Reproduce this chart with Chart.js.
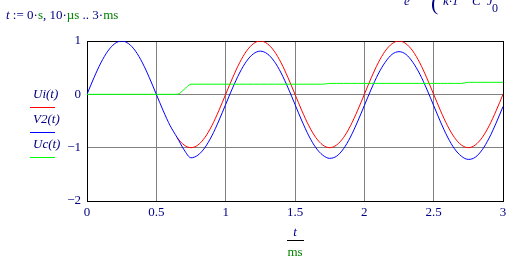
<!DOCTYPE html>
<html>
<head>
<meta charset="utf-8">
<script src="https://cdn.jsdelivr.net/npm/chart.js@4"></script>
<style>
  body { margin: 0; background: #fff; }
</style>
</head>
<body>
<canvas id="plot" width="527" height="263"></canvas>
<script>
// time in ms
const times = [0, 0.05, 0.1, 0.15, 0.2, 0.25, 0.3, 0.35, 0.4, 0.45,
  0.5, 0.55, 0.6, 0.65, 0.7, 0.75, 0.8, 0.85, 0.9, 0.95,
  1, 1.05, 1.1, 1.15, 1.2, 1.25, 1.3, 1.35, 1.4, 1.45,
  1.5, 1.55, 1.6, 1.65, 1.7, 1.75, 1.8, 1.85, 1.9, 1.95,
  2, 2.05, 2.1, 2.15, 2.2, 2.25, 2.3, 2.35, 2.4, 2.45,
  2.5, 2.55, 2.6, 2.65, 2.7, 2.75, 2.8, 2.85, 2.9, 2.95, 3];

// Ui(t) - red
const ui = [0, 0.31, 0.59, 0.81, 0.95, 1, 0.95, 0.81, 0.59, 0.31,
  0, -0.31, -0.59, -0.81, -0.95, -1, -0.95, -0.81, -0.59, -0.31,
  0, 0.31, 0.59, 0.81, 0.95, 1, 0.95, 0.81, 0.59, 0.31,
  0, -0.31, -0.59, -0.81, -0.95, -1, -0.95, -0.81, -0.59, -0.31,
  0, 0.31, 0.59, 0.81, 0.95, 1, 0.95, 0.81, 0.59, 0.31,
  0, -0.31, -0.59, -0.81, -0.95, -1, -0.95, -0.81, -0.59, -0.31, 0];

// V2(t) - blue
const v2 = [0, 0.31, 0.59, 0.81, 0.95, 1, 0.95, 0.81, 0.59, 0.31,
  0, -0.31, -0.59, -0.81, -1.04, -1.19, -1.14, -1.0, -0.78, -0.5,
  -0.19, 0.12, 0.4, 0.62, 0.76, 0.81, 0.76, 0.62, 0.4, 0.12,
  -0.19, -0.5, -0.78, -1.0, -1.14, -1.2, -1.16, -1.02, -0.8, -0.52,
  -0.21, 0.1, 0.38, 0.6, 0.75, 0.8, 0.75, 0.6, 0.38, 0.1,
  -0.21, -0.52, -0.8, -1.02, -1.16, -1.22, -1.18, -1.04, -0.82, -0.54, -0.23];

// Uc(t) - green
const uc = [0, 0, 0, 0, 0, 0, 0, 0, 0, 0,
  0, 0, 0, 0, 0.09, 0.19, 0.19, 0.19, 0.19, 0.19,
  0.19, 0.19, 0.19, 0.19, 0.19, 0.19, 0.19, 0.19, 0.19, 0.19,
  0.19, 0.19, 0.19, 0.19, 0.19, 0.205, 0.205, 0.205, 0.205, 0.205,
  0.205, 0.205, 0.205, 0.205, 0.205, 0.205, 0.205, 0.205, 0.205, 0.205,
  0.205, 0.205, 0.205, 0.205, 0.205, 0.225, 0.225, 0.225, 0.225, 0.225, 0.225];

const NAVY = "#000080";
const GREEN = "#008000";
const SERIF = "'Liberation Serif', 'Times New Roman', serif";

const pts = (vals) => vals.map((v, i) => ({ x: times[i], y: v }));

function edgeColor(min, max) {
  return (ctx) => {
    const v = ctx.tick ? ctx.tick.value : null;
    return v === min || v === max ? "#000" : "#808080";
  };
}

// pieces of text drawn one after the other
function drawRun(c, x, y, parts) {
  parts.forEach(([txt, color, style]) => {
    c.font = (style || "") + " 13px " + SERIF;
    c.fillStyle = color;
    c.fillText(txt, x, y);
    x += c.measureText(txt).width;
  });
}

const annotations = {
  id: "annotations",
  afterDraw(chart) {
    const c = chart.ctx;
    c.save();
    c.textBaseline = "alphabetic";
    c.textAlign = "left";

    // range definition
    drawRun(c, 6, 19, [
      ["t", NAVY, "italic"], [" := ", NAVY], ["0", NAVY], ["\u00b7", NAVY], ["s", GREEN],
      [", ", NAVY], ["10", NAVY], ["\u00b7", NAVY], ["\u00b5s", GREEN], [" .. ", NAVY],
      ["3", NAVY], ["\u00b7", NAVY], ["ms", GREEN]
    ]);

    // cut off formula at top right
    c.fillStyle = NAVY;
    c.font = "italic 13px " + SERIF;
    c.fillText("e", 404, 5);
    c.font = "22px " + SERIF;
    c.fillText("(", 431, 10);
    c.font = "italic 13px " + SERIF;
    c.fillText("k\u00b71", 443, 5);
    c.fillText("C", 472, 5);
    c.fillText("J", 487, 5);
    c.font = "12px " + SERIF;
    c.fillText("0", 492, 12);

    // trace names on the y side
    const names = [["Ui(t)", 98, "#ff0000"], ["V2(t)", 123, "#0000ff"], ["Uc(t)", 148, "#00ff00"]];
    names.forEach(([txt, y, col]) => {
      c.font = "italic 13px " + SERIF;
      c.fillStyle = NAVY;
      c.fillText(txt, 33, y);
      c.strokeStyle = col;
      c.lineWidth = 1;
      c.beginPath();
      c.moveTo(30, y + 9.5);
      c.lineTo(55, y + 9.5);
      c.stroke();
    });

    // x axis label t / ms
    c.textAlign = "center";
    c.font = "italic 13px " + SERIF;
    c.fillStyle = NAVY;
    c.fillText("t", 295, 236);
    c.strokeStyle = "#000";
    c.beginPath();
    c.moveTo(287, 240.5);
    c.lineTo(304, 240.5);
    c.stroke();
    c.font = "13px " + SERIF;
    c.fillStyle = GREEN;
    c.fillText("ms", 295, 256);
    c.restore();
  }
};

new Chart(document.getElementById("plot"), {
  type: "line",
  data: {
    datasets: [
      { label: "Uc(t)", data: pts(uc), borderColor: "#00ff00", order: 0 },
      { label: "V2(t)", data: pts(v2), borderColor: "#0000ff", order: 1 },
      {
        label: "Ui(t)", data: pts(ui), borderColor: "#ff0000", order: 2,
        // hidden under the blue trace while the two coincide
        segment: { borderColor: (ctx) => uc[ctx.p1DataIndex] === 0 ? "rgba(0,0,0,0)" : "#ff0000" }
      }
    ]
  },
  options: {
    responsive: false,
    animation: false,
    devicePixelRatio: 1,
    layout: { padding: { top: 41, right: 24, left: 0, bottom: 0 } },
    elements: {
      point: { radius: 0 },
      line: { borderWidth: 1, cubicInterpolationMode: "monotone" }
    },
    plugins: {
      legend: { display: false },
      tooltip: { enabled: false }
    },
    scales: {
      x: {
        type: "linear",
        min: 0,
        max: 3,
        afterFit: (s) => { s.height = 62; },
        ticks: {
          stepSize: 0.5,
          color: NAVY,
          padding: 4,
          maxRotation: 0,
          font: { family: SERIF, size: 13 },
          callback: (v) => String(v)
        },
        grid: { color: edgeColor(0, 3), drawTicks: false },
        border: { color: "#000" }
      },
      y: {
        min: -2,
        max: 1,
        afterFit: (s) => { s.width = 87; },
        ticks: {
          stepSize: 1,
          color: NAVY,
          padding: 6,
          font: { family: SERIF, size: 13 },
          callback: (v) => String(v).replace("-", "\u2212")
        },
        grid: { color: edgeColor(-2, 1), drawTicks: false },
        border: { color: "#000" }
      }
    }
  },
  plugins: [annotations]
});
</script>
</body>
</html>
